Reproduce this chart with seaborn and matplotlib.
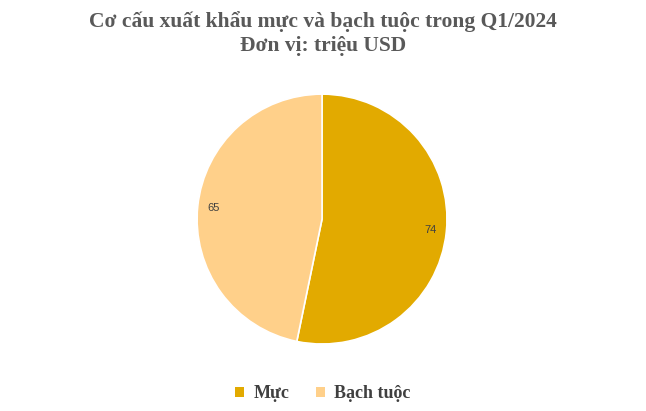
import matplotlib
matplotlib.use("Agg")
import matplotlib.pyplot as plt
from matplotlib.patches import Patch
import seaborn as sns

# data
categories = ["Mực", "Bạch tuộc"]
values = [74, 65]
colors = ["#E2AA00", "#FFD08A"]

sns.set_theme(style="white")
plt.rcParams['font.family'] = ['Liberation Serif', 'DejaVu Serif']

fig = plt.figure(figsize=(6.46, 4.11), dpi=100)
ax = fig.add_axes([0.305, 0.163, 0.387, 0.608])

wedges, texts, autotexts = ax.pie(
    values,
    colors=colors,
    startangle=90,
    counterclock=False,
    autopct=lambda p: f"{round(p * sum(values) / 100):d}",
    pctdistance=0.87,
    wedgeprops=dict(edgecolor="white", linewidth=1.2),
    textprops=dict(color="#404040", fontsize=8, family=['Liberation Sans', 'DejaVu Sans']),
)
ax.set_xlim(-1, 1)
ax.set_ylim(-1, 1)
ax.set_aspect("equal")

fig.suptitle("Cơ cấu xuất khẩu mực và bạch tuộc trong Q1/2024\nĐơn vị: triệu USD",
             y=0.972, fontsize=15.5, fontweight="bold", color="#595959", linespacing=1.25)

handles = [Patch(facecolor=c, edgecolor="none") for c in colors]
fig.legend(handles, categories, loc="lower center", bbox_to_anchor=(0.5, -0.018), ncol=2,
           frameon=False, handlelength=0.5, handleheight=0.5, handletextpad=0.5, columnspacing=1.5,
           prop=dict(family=['Liberation Serif', 'DejaVu Serif'], weight="bold", size=13),
           labelcolor="#404040")

fig.savefig("out.png", dpi=100)
